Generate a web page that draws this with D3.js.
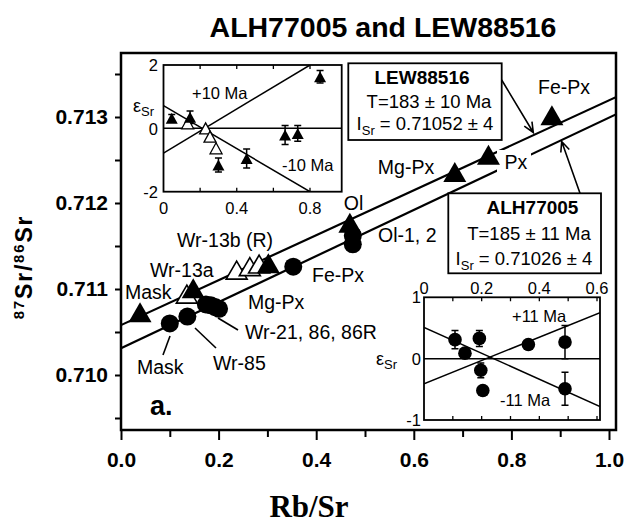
<!DOCTYPE html>
<html><head><meta charset="utf-8">
<script src="https://cdn.jsdelivr.net/npm/d3@7"></script>
<style>
body{margin:0;background:#fff}
svg{display:block}
text{fill:#000}
</style>
</head><body>
<svg id="c" width="624" height="525" font-family='"Liberation Sans",Arial,Helvetica,sans-serif'></svg>
<script>
// ---------------- DATA ----------------
const titleText = "ALH77005 and LEW88516";
const xTickValues = [0, 0.2, 0.4, 0.6, 0.8, 1.0];
const xMinorValues = [0.1, 0.3, 0.5, 0.7, 0.9];
const yTickValues = [0.710, 0.711, 0.712, 0.713];
const yMinorValues = [0.7095, 0.7105, 0.7115, 0.7125, 0.7135];

// LEW88516 (triangles)
const lewRbSr  = [0.039, 0.148, 0.302, 0.469, 0.684, 0.753, 0.883];
const lewSr    = [0.71073, 0.71101, 0.71130, 0.71177, 0.71236, 0.71256, 0.71302];
const lewOpenRbSr = [0.135, 0.237, 0.264, 0.283];
const lewOpenSr   = [0.71094, 0.71122, 0.71126, 0.71129];
// ALH77005 (circles)
const alhRbSr = [0.100, 0.136, 0.174, 0.184, 0.193, 0.201, 0.353, 0.475, 0.475];
const alhSr   = [0.71060, 0.71068, 0.71082, 0.71081, 0.71079, 0.71077, 0.71126, 0.71162, 0.71152];
// isochrons (end points)
const lewFitRbSr = [0, 1.014], lewFitSr = [0.71058, 0.71323];
const alhFitRbSr = [0, 1.014], alhFitSr = [0.71031, 0.71303];

// Inset 1 (LEW epsilon Sr)
const in1FilledRbSr = [0.045, 0.145, 0.300, 0.454, 0.664, 0.733, 0.855];
const in1FilledEps  = [0.32, 0.35, -1.16, -0.95, -0.21, -0.16, 1.63];
const in1FilledErr  = [0.12, 0.20, 0.22, 0.30, 0.30, 0.25, 0.20];
const in1OpenRbSr = [0.132, 0.230, 0.254, 0.287];
const in1OpenEps  = [0.16, 0.0, -0.26, -0.63];
const in1PlusRbSr = [0, 0.8], in1PlusEps = [-0.78, 2];
const in1MinusRbSr = [0, 0.8], in1MinusEps = [0.72, -2];
const in1XLabels = [0, 0.4, 0.8];
const in1XTicks = [0.2, 0.4, 0.6, 0.8];
const in1YLabels = [2, 0, -2];

// Inset 2 (ALH epsilon Sr)
const in2RbSr = [0.1075, 0.142, 0.192, 0.197, 0.204, 0.362, 0.489, 0.489];
const in2Eps  = [0.31, 0.09, 0.33, -0.19, -0.52, 0.23, 0.27, -0.49];
const in2Err  = [0.15, 0, 0.13, 0.12, 0, 0, 0.27, 0.27];
const in2PlusRbSr = [0, 0.6105], in2PlusEps = [-0.41, 0.75];
const in2MinusRbSr = [0, 0.6105], in2MinusEps = [0.51, -0.78];
const in2XLabels = [0, 0.2, 0.4, 0.6];
const in2XTicks = [0.1, 0.2, 0.3, 0.4, 0.5, 0.6];
const in2YLabels = [1, 0, -1];

// ---------------- DRAW ----------------
const svg = d3.select("#c");
const FONT = '"Liberation Sans",Arial,Helvetica,sans-serif';

const X = d3.scaleLinear().domain([0, 1]).range([121, 609]);
const Y = d3.scaleLinear().domain([0.710, 0.713]).range([375, 117]);
const frame = {l: 121, r: 616, t: 53, b: 430};

// title
svg.append("text").attr("x", 383).attr("y", 37).attr("text-anchor", "middle")
  .attr("font-size", 28.5).attr("font-weight", "bold").text(titleText);

// axis titles
const yt = svg.append("text").attr("transform", "translate(32,267) rotate(-90)")
  .attr("text-anchor", "middle").attr("font-size", 23).attr("font-weight", "bold")
  .attr("letter-spacing", 1.8);
yt.append("tspan").attr("font-size", 15).attr("dy", -8).text("87");
yt.append("tspan").attr("dy", 8).text("Sr/");
yt.append("tspan").attr("font-size", 15).attr("dy", -8).text("86");
yt.append("tspan").attr("dy", 8).text("Sr");

svg.append("text").attr("x", 309).attr("y", 517).attr("text-anchor", "middle")
  .style("font-family", '"Liberation Serif","Times New Roman",serif')
  .attr("font-size", 31).attr("font-weight", "bold").text("Rb/Sr");

// axes
const gx = svg.append("g").attr("transform", `translate(0,${frame.b})`)
  .call(d3.axisBottom(X).tickValues(xTickValues).tickSize(10).tickPadding(12).tickFormat(d3.format(".1f")));
const gxm = svg.append("g").attr("transform", `translate(0,${frame.b})`)
  .call(d3.axisBottom(X).tickValues(xMinorValues).tickSize(7).tickFormat(""));
const gy = svg.append("g").attr("transform", `translate(${frame.l},0)`)
  .call(d3.axisLeft(Y).tickValues(yTickValues).tickSize(6).tickPadding(7).tickFormat(d3.format(".3f")));
const gym = svg.append("g").attr("transform", `translate(${frame.l},0)`)
  .call(d3.axisLeft(Y).tickValues(yMinorValues).tickSize(6).tickFormat(""));
[gx, gxm, gy, gym].forEach(g => {
  g.select(".domain").remove();
  g.selectAll(".tick line").attr("stroke", "#000").attr("stroke-width", 2);
  g.selectAll(".tick text").attr("font-family", FONT).attr("font-size", 21).attr("font-weight", "bold").attr("fill", "#000");
});

// clip
svg.append("clipPath").attr("id", "clipMain").append("rect")
  .attr("x", frame.l).attr("y", frame.t).attr("width", frame.r - frame.l).attr("height", frame.b - frame.t);

const line = d3.line().x(d => X(d[0])).y(d => Y(d[1]));
const gl = svg.append("g").attr("clip-path", "url(#clipMain)");
gl.append("path").attr("d", line(d3.zip(lewFitRbSr, lewFitSr))).attr("fill", "none").attr("stroke", "#000").attr("stroke-width", 2.2);
gl.append("path").attr("d", line(d3.zip(alhFitRbSr, alhFitSr))).attr("fill", "none").attr("stroke", "#000").attr("stroke-width", 2.2);

function tri(cx, cy, w, h) {
  return `M${cx},${cy - h / 2}L${cx + w / 2},${cy + h / 2}L${cx - w / 2},${cy + h / 2}Z`;
}

// "Px" label white background (gap in ALH line)
svg.append("rect").attr("x", 497).attr("y", 150).attr("width", 34).attr("height", 22).attr("fill", "#fff");

// open triangles
svg.append("g").selectAll("path").data(d3.zip(lewOpenRbSr, lewOpenSr)).join("path")
  .attr("d", d => tri(X(d[0]), Y(d[1]), 21, 18)).attr("fill", "#fff").attr("stroke", "#000").attr("stroke-width", 1.6);
// filled triangles
svg.append("g").selectAll("path").data(d3.zip(lewRbSr, lewSr)).join("path")
  .attr("d", d => tri(X(d[0]), Y(d[1]), 23, 20)).attr("fill", "#000");
// circles
svg.append("g").selectAll("circle").data(d3.zip(alhRbSr, alhSr)).join("circle")
  .attr("cx", d => X(d[0])).attr("cy", d => Y(d[1])).attr("r", 9).attr("fill", "#000");

// frame
svg.append("rect").attr("x", frame.l).attr("y", frame.t).attr("width", frame.r - frame.l).attr("height", frame.b - frame.t)
  .attr("fill", "none").attr("stroke", "#000").attr("stroke-width", 2.5);

// main labels
const labels = [
  ["Fe-Px", 564, 93.5, "middle"], ["Px", 516, 168.5, "middle"], ["Mg-Px", 406, 173.5, "middle"],
  ["Ol", 353.5, 210, "middle"], ["Ol-1, 2", 378, 242, "start"], ["Fe-Px", 312, 282, "start"],
  ["Mg-Px", 248, 308.5, "start"], ["Wr-21, 86, 86R", 245, 338.5, "start"], ["Wr-85", 213, 370, "start"],
  ["Mask", 137, 373.5, "start"], ["Mask", 125, 298.5, "start"], ["Wr-13a", 150, 277, "start"],
  ["Wr-13b (R)", 177, 247, "start"]
];
svg.append("g").selectAll("text").data(labels).join("text")
  .attr("x", d => d[1]).attr("y", d => d[2]).attr("text-anchor", d => d[3])
  .attr("font-size", 19.5).text(d => d[0]);
svg.append("text").attr("x", 150).attr("y", 415).attr("font-size", 27).attr("font-weight", "bold").text("a.");

// leader lines
const leaders = [[218, 318, 238, 330], [195, 328, 216, 348], [170, 336, 163, 355]];
svg.append("g").selectAll("line").data(leaders).join("line")
  .attr("x1", d => d[0]).attr("y1", d => d[1]).attr("x2", d => d[2]).attr("y2", d => d[3])
  .attr("stroke", "#000").attr("stroke-width", 1.6);

// boxes with text
function box(x0, y0, x1, y1) {
  svg.append("rect").attr("x", x0).attr("y", y0).attr("width", x1 - x0).attr("height", y1 - y0)
    .attr("fill", "#fff").attr("stroke", "#000").attr("stroke-width", 1.8);
}
function isrText(x, y, value) {
  const t = svg.append("text").attr("x", x).attr("y", y).attr("text-anchor", "middle").attr("font-size", 18.5);
  t.append("tspan").text("I");
  t.append("tspan").attr("font-size", 13).attr("dy", 5).text("Sr");
  t.append("tspan").attr("dy", -5).text(" = " + value);
}
box(348.3, 63.3, 501.7, 140);
svg.append("text").attr("x", 422).attr("y", 83.5).attr("text-anchor", "middle").attr("font-size", 19).attr("font-weight", "bold").text("LEW88516");
svg.append("text").attr("x", 429).attr("y", 108.3).attr("text-anchor", "middle").attr("font-size", 18.5).text("T=183 ± 10 Ma");
isrText(425, 130, "0.71052 ± 4");

box(448.3, 193.3, 601, 273.3);
svg.append("text").attr("x", 532.5).attr("y", 213.5).attr("text-anchor", "middle").attr("font-size", 19).attr("font-weight", "bold").text("ALH77005");
svg.append("text").attr("x", 529).attr("y", 240).attr("text-anchor", "middle").attr("font-size", 18.5).text("T=185 ± 11 Ma");
isrText(524, 265, "0.71026 ± 4");

// arrows
function arrow(x0, y0, x1, y1) {
  const a = Math.atan2(y1 - y0, x1 - x0), L = 11, s = 0.42;
  svg.append("path").attr("d",
    `M${x0},${y0}L${x1},${y1}M${x1 - L * Math.cos(a - s)},${y1 - L * Math.sin(a - s)}L${x1},${y1}L${x1 - L * Math.cos(a + s)},${y1 - L * Math.sin(a + s)}`)
    .attr("fill", "none").attr("stroke", "#000").attr("stroke-width", 1.6);
}
arrow(501.7, 80, 533.3, 132.5);
arrow(580, 193.3, 561.7, 141.5);

// ---------------- INSETS ----------------
function epsLabel(x, y) {
  const t = svg.append("text").attr("x", x).attr("y", y).attr("font-size", 18);
  t.append("tspan").text("ε");
  t.append("tspan").attr("font-size", 13).attr("dy", 4).text("Sr");
}
function errBars(g, pts, Xs, Ys) {
  g.selectAll("path.err").data(pts.filter(d => d[2] > 0)).join("path").attr("class", "err")
    .attr("d", d => {
      const x = Xs(d[0]), y0 = Ys(d[1] - d[2]), y1 = Ys(d[1] + d[2]);
      return `M${x},${y0}L${x},${y1}M${x - 3.5},${y0}L${x + 3.5},${y0}M${x - 3.5},${y1}L${x + 3.5},${y1}`;
    }).attr("stroke", "#000").attr("stroke-width", 1.5).attr("fill", "none");
}

// Inset 1
const X1 = d3.scaleLinear().domain([0, 0.8]).range([163.5, 310]);
const Y1 = d3.scaleLinear().domain([-2, 2]).range([191.7, 65]);
const b1 = {l: 163.5, r: 341.7, t: 65, b: 191.7};
svg.append("rect").attr("x", b1.l).attr("y", b1.t).attr("width", b1.r - b1.l).attr("height", b1.b - b1.t).attr("fill", "#fff");
svg.append("clipPath").attr("id", "clip1").append("rect").attr("x", b1.l).attr("y", b1.t).attr("width", b1.r - b1.l).attr("height", b1.b - b1.t);
const g1 = svg.append("g");
const gl1 = g1.append("g").attr("clip-path", "url(#clip1)");
const line1 = d3.line().x(d => X1(d[0])).y(d => Y1(d[1]));
gl1.append("path").attr("d", line1([[0, 0], [X1.invert(b1.r), 0]])).attr("stroke", "#000").attr("stroke-width", 1.5).attr("fill", "none");
gl1.append("path").attr("d", line1(d3.zip(in1PlusRbSr, in1PlusEps))).attr("stroke", "#000").attr("stroke-width", 1.5).attr("fill", "none");
gl1.append("path").attr("d", line1(d3.zip(in1MinusRbSr, in1MinusEps))).attr("stroke", "#000").attr("stroke-width", 1.5).attr("fill", "none");
errBars(g1, d3.zip(in1FilledRbSr, in1FilledEps, in1FilledErr), X1, Y1);
g1.append("g").selectAll("path").data(d3.zip(in1OpenRbSr, in1OpenEps)).join("path")
  .attr("d", d => tri(X1(d[0]), Y1(d[1]), 12, 11)).attr("fill", "#fff").attr("stroke", "#000").attr("stroke-width", 1.3);
g1.append("g").selectAll("path").data(d3.zip(in1FilledRbSr, in1FilledEps)).join("path")
  .attr("d", d => tri(X1(d[0]), Y1(d[1]), 12, 11)).attr("fill", "#000");
// ticks (inward, top & bottom)
g1.append("g").selectAll("path").data(in1XTicks).join("path")
  .attr("d", d => `M${X1(d)},${b1.b}V${b1.b - 4}M${X1(d)},${b1.t}V${b1.t + 4}`).attr("stroke", "#000").attr("stroke-width", 1.3);
g1.append("rect").attr("x", b1.l).attr("y", b1.t).attr("width", b1.r - b1.l).attr("height", b1.b - b1.t)
  .attr("fill", "none").attr("stroke", "#000").attr("stroke-width", 1.8);
g1.append("g").selectAll("text").data(in1XLabels).join("text")
  .attr("x", d => X1(d)).attr("y", 214).attr("text-anchor", "middle").attr("font-size", 16.5).text(d => d);
g1.append("g").selectAll("text").data(in1YLabels).join("text")
  .attr("x", 158).attr("y", d => Y1(d) + (d === 0 ? 7 : 6)).attr("text-anchor", "end").attr("font-size", 16.5).text(d => d);
g1.append("text").attr("x", 192).attr("y", 99).attr("font-size", 16.5).text("+10 Ma");
g1.append("text").attr("x", 282).attr("y", 171).attr("font-size", 16.5).text("-10 Ma");
epsLabel(133, 112);

// Inset 2
const X2 = d3.scaleLinear().domain([0, 0.6]).range([424, 597]);
const Y2 = d3.scaleLinear().domain([-1, 1]).range([420, 297.3]);
const b2 = {l: 424, r: 600, t: 297.3, b: 420};
svg.append("rect").attr("x", b2.l).attr("y", b2.t).attr("width", b2.r - b2.l).attr("height", b2.b - b2.t).attr("fill", "#fff");
svg.append("clipPath").attr("id", "clip2").append("rect").attr("x", b2.l).attr("y", b2.t).attr("width", b2.r - b2.l).attr("height", b2.b - b2.t);
const g2 = svg.append("g");
const gl2 = g2.append("g").attr("clip-path", "url(#clip2)");
const line2 = d3.line().x(d => X2(d[0])).y(d => Y2(d[1]));
gl2.append("path").attr("d", line2([[0, 0], [X2.invert(b2.r), 0]])).attr("stroke", "#000").attr("stroke-width", 1.5).attr("fill", "none");
gl2.append("path").attr("d", line2(d3.zip(in2PlusRbSr, in2PlusEps))).attr("stroke", "#000").attr("stroke-width", 1.5).attr("fill", "none");
gl2.append("path").attr("d", line2(d3.zip(in2MinusRbSr, in2MinusEps))).attr("stroke", "#000").attr("stroke-width", 1.5).attr("fill", "none");
errBars(g2, d3.zip(in2RbSr, in2Eps, in2Err), X2, Y2);
g2.append("g").selectAll("circle").data(d3.zip(in2RbSr, in2Eps)).join("circle")
  .attr("cx", d => X2(d[0])).attr("cy", d => Y2(d[1])).attr("r", 6.8).attr("fill", "#000");
g2.append("g").selectAll("path").data(in2XTicks).join("path")
  .attr("d", d => `M${X2(d)},${b2.b}V${b2.b - 4}M${X2(d)},${b2.t}V${b2.t + 4}`).attr("stroke", "#000").attr("stroke-width", 1.3);
g2.append("rect").attr("x", b2.l).attr("y", b2.t).attr("width", b2.r - b2.l).attr("height", b2.b - b2.t)
  .attr("fill", "none").attr("stroke", "#000").attr("stroke-width", 1.8);
g2.append("g").selectAll("text").data(in2XLabels).join("text")
  .attr("x", d => X2(d)).attr("y", 294).attr("text-anchor", "middle").attr("font-size", 16.5).text(d => d);
g2.append("g").selectAll("text").data(in2YLabels).join("text")
  .attr("x", 421).attr("y", d => Y2(d) + 6).attr("text-anchor", "end").attr("font-size", 16.5).text(d => d);
g2.append("text").attr("x", 512).attr("y", 322).attr("font-size", 16.5).text("+11 Ma");
g2.append("text").attr("x", 500).attr("y", 406).attr("font-size", 16.5).text("-11 Ma");
epsLabel(376, 365);
</script>
</body></html>
